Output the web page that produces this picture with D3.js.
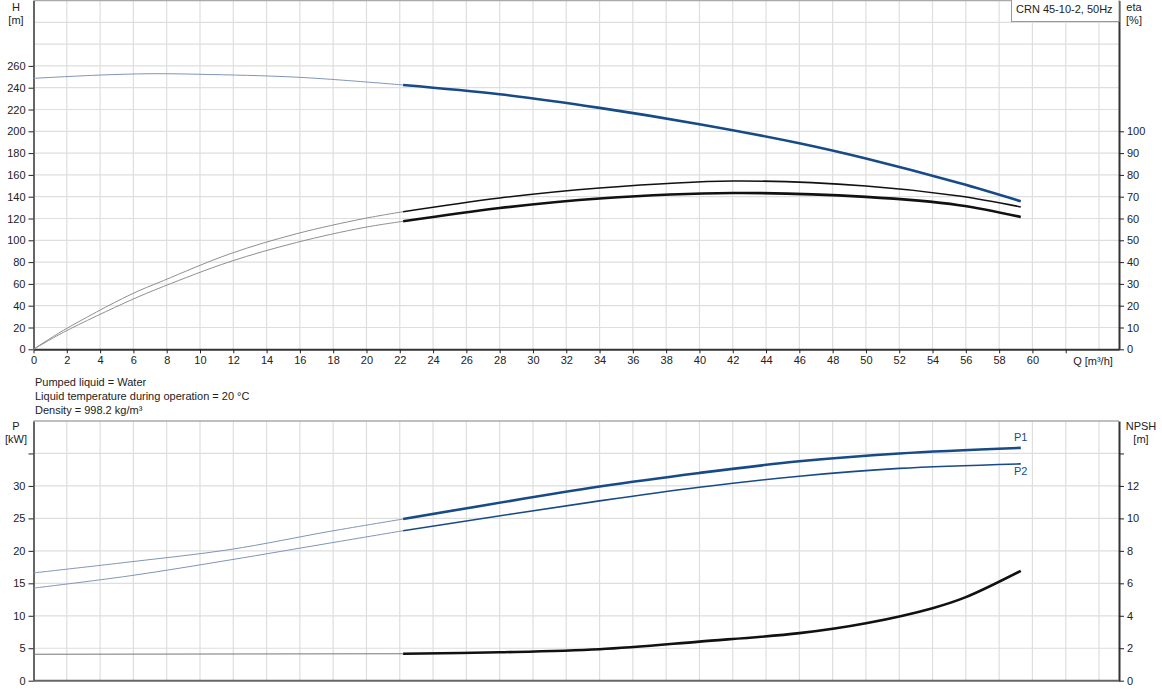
<!DOCTYPE html>
<html>
<head>
<meta charset="utf-8">
<script src="https://cdn.jsdelivr.net/npm/d3@7"></script>
<style>
  body{margin:0;background:#fff;}
  text{font-family:"Liberation Sans",Arial,sans-serif;font-size:11px;fill:#222;}
</style>
</head>
<body>
<div id="grafico"></div>
<script>
// curva H (altura) - azul
const qH   = [0, 4, 7, 10, 16, 22.2, 28, 34, 40, 46, 50, 55.6, 59.3];
const valH = [248.6, 251.6, 252.8, 252.3, 249.5, 242.5, 234, 221.5, 206.5, 189, 175, 152.5, 135.8];

// eta da bomba (curva de cima) e eta total (curva de baixo)
const qEta    = [0, 1.8, 5.8, 7.8, 11.8, 15.8, 19.8, 22.2, 28, 34, 42, 50, 55.6, 59.3];
const valEta1 = [0, 8.7, 25, 31.5, 43.8, 53, 59.9, 63.1, 69.4, 74, 77.2, 74.9, 70.3, 65.3];
const valEta2 = [0, 7.8, 22.4, 28.8, 40.2, 49, 55.8, 58.7, 64.8, 69.2, 71.7, 69.9, 66.1, 60.7];

// potencias P1 e P2
const qP    = [0, 5.8, 11.8, 17.8, 22.2, 34, 40, 46, 52, 59.3];
const valP1 = [16.6, 18.3, 20.2, 23.0, 24.9, 29.9, 32.0, 33.8, 35.0, 35.86];
const valP2 = [14.26, 16.16, 18.6, 21.2, 23.1, 27.7, 29.8, 31.5, 32.7, 33.4];

// NPSH
const qNpsh   = [0, 22.2, 28, 34, 40, 46, 50, 54, 56, 59.3];
const valNpsh = [1.63, 1.66, 1.75, 1.94, 2.41, 2.93, 3.54, 4.47, 5.15, 6.77];

const qCorte = 22.2; // a partir daqui a curva fica grossa

const ticksQ    = d3.range(0, 63, 2);
const ticksH    = d3.range(0, 261, 20);
const ticksEta  = d3.range(0, 101, 10);
const ticksP    = d3.range(0, 36, 5);
const ticksNpsh = d3.range(0, 15, 2);

const textos = ["Pumped liquid = Water", "Liquid temperature during operation = 20 °C", "Density = 998.2 kg/m³"];
const titulo = "CRN 45-10-2, 50Hz";

const W = 1162, Hh = 700;
const xL = 33.5, xR = 1119;

const svg = d3.select('#grafico').append('svg')
  .attr('width', W).attr('height', Hh);

const x = d3.scaleLinear().domain([0, 65.2]).range([xL, xR]);

// escalas de cima
const yH   = d3.scaleLinear().domain([0, 320]).range([349.3, 0.5]);
const yEta = d3.scaleLinear().domain([0, 160]).range([349.3, 0.5]);
// escalas de baixo
const yP    = d3.scaleLinear().domain([0, 40]).range([680.7, 421]);
const yNpsh = d3.scaleLinear().domain([0, 16]).range([680.7, 421]);

function grade(yEsc, valores, yTop, yBot){
  const g = svg.append('g');
  g.selectAll('.gv').data(d3.range(2, 66, 2)).join('line')
    .attr('x1', d => x(d)).attr('x2', d => x(d))
    .attr('y1', yTop).attr('y2', yBot)
    .attr('stroke', '#dedede').attr('stroke-width', 1.2);
  g.selectAll('.gh').data(valores).join('line')
    .attr('x1', xL).attr('x2', xR)
    .attr('y1', d => yEsc(d)).attr('y2', d => yEsc(d))
    .attr('stroke', '#dedede').attr('stroke-width', 1.2);
}

grade(yH, d3.range(20, 321, 20), 0, 349.3);
grade(yP, d3.range(5, 36, 5), 421, 680.7);

// bordas de cima
svg.append('line').attr('x1', xL).attr('x2', xR).attr('y1', 421).attr('y2', 421)
  .attr('stroke', '#aaa').attr('stroke-width', 1.5);
svg.append('line').attr('x1', xL).attr('x2', xR).attr('y1', 0.5).attr('y2', 0.5)
  .attr('stroke', '#aaa').attr('stroke-width', 1.5);

function eixo(axis, tx, ty, cor){
  const g = svg.append('g').attr('transform', `translate(${tx},${ty})`).call(axis);
  g.select('.domain').attr('stroke', cor).attr('stroke-width', 2);
  g.selectAll('.tick line').attr('stroke', '#222');
  g.selectAll('.tick text').attr('font-family', '"Liberation Sans",Arial,sans-serif').attr('font-size', 11).attr('fill', '#222');
  return g;
}

const fmtSemUltimo = (lim) => (d => d > lim ? '' : d);

eixo(d3.axisLeft(yH).tickValues(ticksH).tickSize(5).tickPadding(3).tickSizeOuter(0), xL, 0, '#666');
eixo(d3.axisRight(yEta).tickValues(ticksEta).tickSize(5).tickPadding(3).tickSizeOuter(0), xR, 0, '#333');
eixo(d3.axisBottom(x).tickValues(ticksQ).tickFormat(fmtSemUltimo(60)).tickSize(4).tickPadding(3).tickSizeOuter(0), 0, 349.3, '#333');

eixo(d3.axisLeft(yP).tickValues(ticksP).tickFormat(fmtSemUltimo(30)).tickSize(5).tickPadding(3).tickSizeOuter(0), xL, 0, '#666');
eixo(d3.axisRight(yNpsh).tickValues(ticksNpsh).tickFormat(fmtSemUltimo(12)).tickSize(5).tickPadding(3).tickSizeOuter(0), xR, 0, '#333');
svg.append('line').attr('x1', xL).attr('x2', xR).attr('y1', 680.7).attr('y2', 680.7)
  .attr('stroke', '#666').attr('stroke-width', 2);

// rotulos dos eixos
const rot = (t, px, py, anc) => svg.append('text').attr('x', px).attr('y', py)
  .attr('text-anchor', anc || 'middle').text(t);
rot('H', 16, 11); rot('[m]', 16, 24);
rot('eta', 1134, 11); rot('[%]', 1134, 24);
rot('Q [m³/h]', 1093, 365);
rot('P', 16, 430); rot('[kW]', 16, 443);
rot('NPSH', 1141, 430); rot('[m]', 1141, 443);

textos.forEach((t, i) => rot(t, 35, 386 + i * 14, 'start'));

// caixa do titulo
svg.append('rect').attr('x', 1011.5).attr('y', -1).attr('width', 107.5).attr('height', 22.5)
  .attr('fill', '#fff').attr('stroke', '#999').attr('stroke-width', 1);
rot(titulo, 1016, 13, 'start');

// curvas
function curva(qs, vs, yEsc, corFina, corGrossa, largura){
  const pts = qs.map((q, i) => [q, vs[i]]);
  const linha = d3.line().x(d => x(d[0])).y(d => yEsc(d[1])).curve(d3.curveCatmullRom.alpha(0.5));
  svg.append('path').attr('d', linha(pts.filter(d => d[0] <= qCorte)))
    .attr('fill', 'none').attr('stroke', corFina).attr('stroke-width', 1);
  svg.append('path').attr('d', linha(pts.filter(d => d[0] >= qCorte)))
    .attr('fill', 'none').attr('stroke', corGrossa).attr('stroke-width', largura);
}

const azul = '#174a86';
curva(qH, valH, yH, '#7f95b8', azul, 2.6);
curva(qEta, valEta1, yEta, '#8f8f8f', '#111', 1.6);
curva(qEta, valEta2, yEta, '#8f8f8f', '#111', 2.6);
curva(qP, valP1, yP, '#7f95b8', azul, 2.6);
curva(qP, valP2, yP, '#7f95b8', azul, 1.6);
curva(qNpsh, valNpsh, yNpsh, '#777', '#111', 2.6);

svg.append('text').attr('x', 1014).attr('y', 441).style('fill', azul).text('P1');
svg.append('text').attr('x', 1014).attr('y', 475).style('fill', azul).text('P2');
</script>
</body>
</html>
